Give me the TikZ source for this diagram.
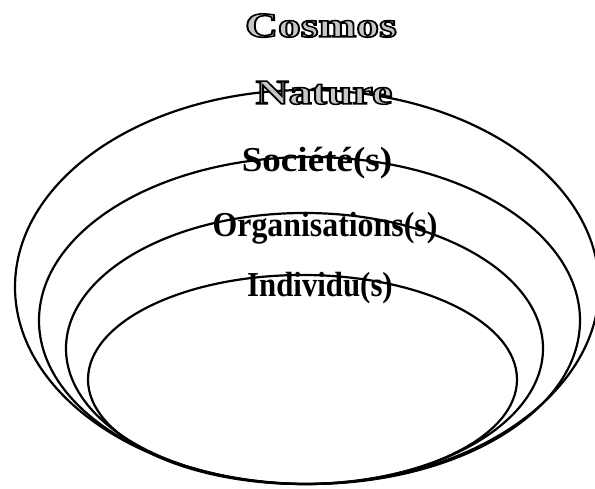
\documentclass[tikz,border=0pt]{standalone}
\usepackage{fontspec}
\setmainfont{Liberation Serif}
\usepackage{graphicx}
\newcommand\engrtext[1]{%
  \textcolor{black!22}{\special{pdf:literal direct 0 G 1.5 w 2 Tr}#1\special{pdf:literal direct 0 Tr}}}
\tikzset{
  ring/.style={draw=black, line width=2.2pt},
  lbl/.style={anchor=base, inner sep=0pt, font=\fontsize{35}{40}\selectfont\bfseries},
}
\begin{document}
\begin{tikzpicture}[x=1pt,y=1pt]
\useasboundingbox (0,0) rectangle (595,489);
% nested ellipses, all touching at the bottom
\draw[ring] (307,202) ellipse [x radius=292, y radius=197];
\draw[ring] (309.5,168.5) ellipse [x radius=270.5, y radius=163.5];
\draw[ring] (304.5,140.5) ellipse [x radius=238.5, y radius=135.5];
\draw[ring] (302.5,109.5) ellipse [x radius=214.5, y radius=104.5];
% labels
\node[lbl] (cosmos) at (321,452) {\scalebox{1.30}[1]{\engrtext{Cosmos}}};
\node[lbl] (nature) at (324,385) {\scalebox{1.31}[1]{\engrtext{Nature}}};
\node[lbl] (societe) at (317,317) {\scalebox{1.06}[1]{Société(s)}};
\node[lbl] (orga) at (325,252) {\scalebox{0.91}[1]{Organisations(s)}};
\node[lbl] (indiv) at (320,192) {\scalebox{0.88}[1]{Individu(s)}};
\end{tikzpicture}
\end{document}
